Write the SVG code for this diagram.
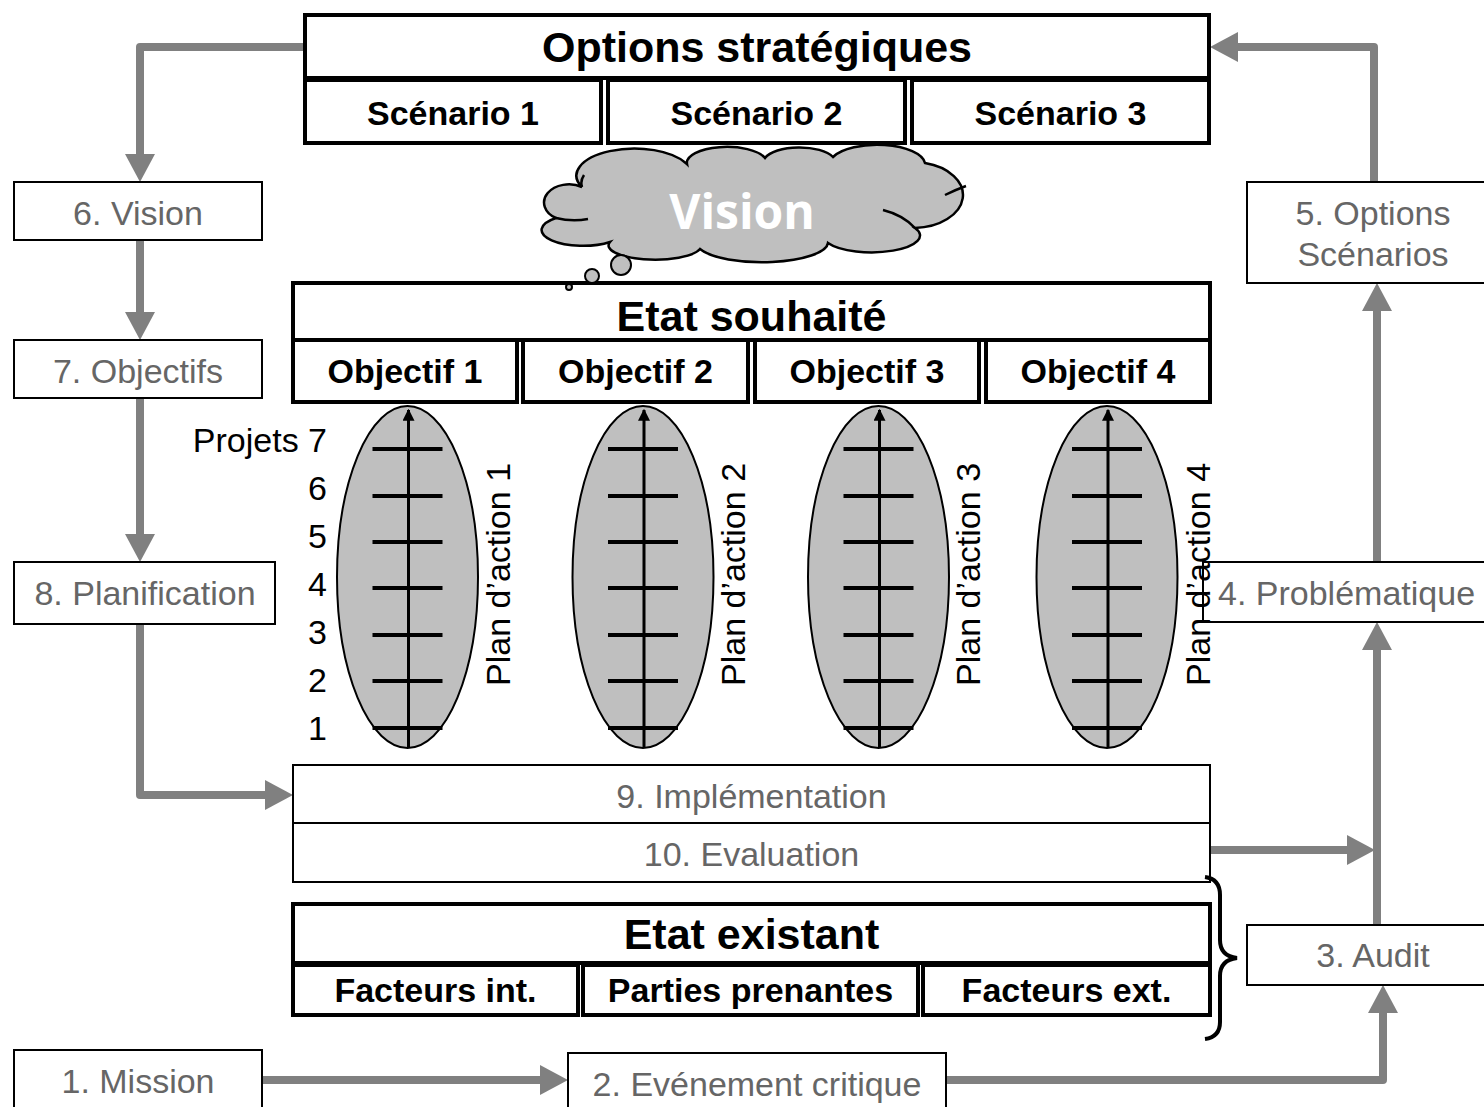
<svg xmlns="http://www.w3.org/2000/svg" width="1484" height="1107" viewBox="0 0 1484 1107">
<style>
.thick{fill:#fff;stroke:#000;stroke-width:4}
.thin{fill:#fff;stroke:#000;stroke-width:2}
.bt{font-family:"Liberation Sans",Arial,sans-serif;font-weight:bold;fill:#000;text-anchor:middle}
.gt{font-family:"Liberation Sans",Arial,sans-serif;font-size:34px;fill:#666;text-anchor:middle}
.gs{font-family:"Liberation Sans",Arial,sans-serif;font-size:34px;fill:#666;text-anchor:start}
.nt{font-family:"Liberation Sans",Arial,sans-serif;font-size:34px;fill:#000}
.ne{font-family:"Liberation Sans",Arial,sans-serif;font-size:34px;fill:#000;text-anchor:end}
.conn{fill:none;stroke:#808080;stroke-width:8;stroke-linejoin:round}
.head{fill:#808080}
.ell{fill:#bfbfbf;stroke:#000;stroke-width:2}
.tick{stroke:#000;stroke-width:4}
.axis{stroke:#000;stroke-width:3}
</style>
<defs>
<marker id="ah" viewBox="0 0 10 10" refX="9" refY="5" markerWidth="4" markerHeight="4" orient="auto"><path d="M0,0 L10,5 L0,10 z" fill="#000"/></marker>
<g id="plan">
<ellipse class="ell" cx="0" cy="577" rx="70.5" ry="171"/>
<line class="tick" x1="-35" y1="449" x2="35" y2="449"/>
<line class="tick" x1="-35" y1="496" x2="35" y2="496"/>
<line class="tick" x1="-35" y1="542" x2="35" y2="542"/>
<line class="tick" x1="-35" y1="588" x2="35" y2="588"/>
<line class="tick" x1="-35" y1="635" x2="35" y2="635"/>
<line class="tick" x1="-35" y1="681" x2="35" y2="681"/>
<line class="tick" x1="-35" y1="728" x2="35" y2="728"/>
<line class="axis" x1="1" y1="748" x2="1" y2="410" marker-end="url(#ah)"/>
</g>
</defs>

<g id="connectors">
<path class="conn" d="M305,47 H140 V156"/><polygon class="head" points="125,154 155,154 140,182"/>
<path class="conn" d="M140,240 V314"/><polygon class="head" points="125,312 155,312 140,340"/>
<path class="conn" d="M140,398 V536"/><polygon class="head" points="125,534 155,534 140,562"/>
<path class="conn" d="M140,624 V795 H267"/><polygon class="head" points="265,780 265,810 293,795"/>
<path class="conn" d="M262,1080 H542"/><polygon class="head" points="540,1065 540,1095 568,1080"/>
<path class="conn" d="M946,1080 H1383 V1011"/><polygon class="head" points="1368,1013 1398,1013 1383,985"/>
<path class="conn" d="M1377,925 V648"/><polygon class="head" points="1362,650 1392,650 1377,622"/>
<path class="conn" d="M1210,850 H1349"/><polygon class="head" points="1347,835 1347,865 1375,850"/>
<path class="conn" d="M1377,562 V309"/><polygon class="head" points="1362,311 1392,311 1377,283"/>
<path class="conn" d="M1374,182 V47 H1236"/><polygon class="head" points="1238,32 1238,62 1210,47"/>
</g>

<g id="options">
<rect class="thick" x="305" y="15" width="904" height="63"/>
<text class="bt" x="757" y="62" font-size="43">Options stratégiques</text>
</g>
<g id="scenario1"><rect class="thick" x="305" y="80" width="296" height="63"/><text class="bt" x="453" y="125" font-size="34">Scénario 1</text></g>
<g id="scenario2"><rect class="thick" x="608" y="80" width="297" height="63"/><text class="bt" x="756.5" y="125" font-size="34">Scénario 2</text></g>
<g id="scenario3"><rect class="thick" x="912" y="80" width="297" height="63"/><text class="bt" x="1060.5" y="125" font-size="34">Scénario 3</text></g>

<g id="etat-souhaite">
<rect class="thick" x="293" y="283" width="917" height="57"/>
<text class="bt" x="751.5" y="331" font-size="43">Etat souhaité</text>
</g>

<g id="cloud">
<path fill="#bfbfbf" stroke="#000" stroke-width="2.5" d="M582,187 A56,26 0 0 1 687,164 A40,16 0 0 1 765,158 A36,15 0 0 1 833,157 A48,20 0 0 1 925,163 A50,33 0 0 1 915,228 A46,16 0 0 1 828,243 A66,20 0 0 1 700,249 A46,14 0 0 1 610,242 A34,13 0 0 1 556,218 A22,16 0 0 1 582,187 Z"/>
<path fill="none" stroke="#000" stroke-width="2.5" d="M556,218 Q572,222 588,219 M883,210 Q903,215 915,228 M945,195 Q955,190 966,186 M582,187 Q580,181 584,175"/>
<circle cx="621" cy="265" r="10" fill="#bfbfbf" stroke="#000" stroke-width="2"/>
<circle cx="592" cy="276" r="7" fill="#bfbfbf" stroke="#000" stroke-width="2"/>
<circle cx="569" cy="287" r="3" fill="#bfbfbf" stroke="#000" stroke-width="2"/>
<text x="742" y="229" font-family="'Open Sans',sans-serif" font-weight="bold" font-size="48" fill="#fff" text-anchor="middle">Vision</text>
</g>

<g id="objectif1"><rect class="thick" x="293" y="340" width="224" height="62"/><text class="bt" x="405" y="383" font-size="34">Objectif 1</text></g>
<g id="objectif2"><rect class="thick" x="523" y="340" width="225" height="62"/><text class="bt" x="635.5" y="383" font-size="34">Objectif 2</text></g>
<g id="objectif3"><rect class="thick" x="755" y="340" width="224" height="62"/><text class="bt" x="867" y="383" font-size="34">Objectif 3</text></g>
<g id="objectif4"><rect class="thick" x="986" y="340" width="224" height="62"/><text class="bt" x="1098" y="383" font-size="34">Objectif 4</text></g>

<g id="n4"><rect class="thin" x="1203" y="562" width="290" height="60"/><text class="gs" x="1218" y="605">4. Problématique</text></g>

<g id="plan1"><use href="#plan" x="407.5"/><text class="nt" transform="translate(510,686) rotate(-90)">Plan d’action 1</text></g>
<g id="plan2"><use href="#plan" x="643"/><text class="nt" transform="translate(745,686) rotate(-90)">Plan d’action 2</text></g>
<g id="plan3"><use href="#plan" x="878.5"/><text class="nt" transform="translate(980,686) rotate(-90)">Plan d’action 3</text></g>
<g id="plan4"><use href="#plan" x="1107"/><text class="nt" transform="translate(1210,686) rotate(-90)">Plan d’action 4</text></g>

<g id="projets">
<text class="ne" x="327" y="452">Projets 7</text>
<text class="ne" x="327" y="500">6</text>
<text class="ne" x="327" y="548">5</text>
<text class="ne" x="327" y="596">4</text>
<text class="ne" x="327" y="644">3</text>
<text class="ne" x="327" y="692">2</text>
<text class="ne" x="327" y="740">1</text>
</g>

<g id="n6"><rect class="thin" x="14" y="182" width="248" height="58"/><text class="gt" x="138" y="225">6. Vision</text></g>
<g id="n7"><rect class="thin" x="14" y="340" width="248" height="58"/><text class="gt" x="138" y="383">7. Objectifs</text></g>
<g id="n8"><rect class="thin" x="14" y="562" width="261" height="62"/><text class="gt" x="145" y="605">8. Planification</text></g>
<g id="n5"><rect class="thin" x="1247" y="182" width="245" height="101"/><text class="gt" x="1373" y="225">5. Options</text><text class="gt" x="1373" y="266">Scénarios</text></g>
<g id="n3"><rect class="thin" x="1247" y="925" width="245" height="60"/><text class="gt" x="1373" y="967">3. Audit</text></g>
<g id="n1"><rect class="thin" x="14" y="1050" width="248" height="62"/><text class="gt" x="138" y="1093">1. Mission</text></g>
<g id="n2"><rect class="thin" x="568" y="1053" width="378" height="60"/><text class="gt" x="757" y="1096">2. Evénement critique</text></g>

<g id="n9"><rect class="thin" x="293" y="765" width="917" height="58"/><text class="gt" x="751.5" y="808">9. Implémentation</text></g>
<g id="n10"><rect class="thin" x="293" y="823" width="917" height="59"/><text class="gt" x="751.5" y="866">10. Evaluation</text></g>

<g id="etat-existant">
<rect class="thick" x="293" y="904" width="917" height="59"/>
<text class="bt" x="751.5" y="949" font-size="43">Etat existant</text>
</g>
<g id="facteurs-int"><rect class="thick" x="293" y="965" width="285" height="50"/><text class="bt" x="435.5" y="1002" font-size="34">Facteurs int.</text></g>
<g id="parties"><rect class="thick" x="583" y="965" width="335" height="50"/><text class="bt" x="750.5" y="1002" font-size="34">Parties prenantes</text></g>
<g id="facteurs-ext"><rect class="thick" x="923" y="965" width="287" height="50"/><text class="bt" x="1066.5" y="1002" font-size="34">Facteurs ext.</text></g>

<g id="brace">
<path fill="none" stroke="#000" stroke-width="4" d="M1205,877 Q1220,879 1220,895 V940 Q1220,956 1237,958 Q1220,960 1220,976 V1022 Q1220,1037 1205,1039"/>
</g>
</svg>
